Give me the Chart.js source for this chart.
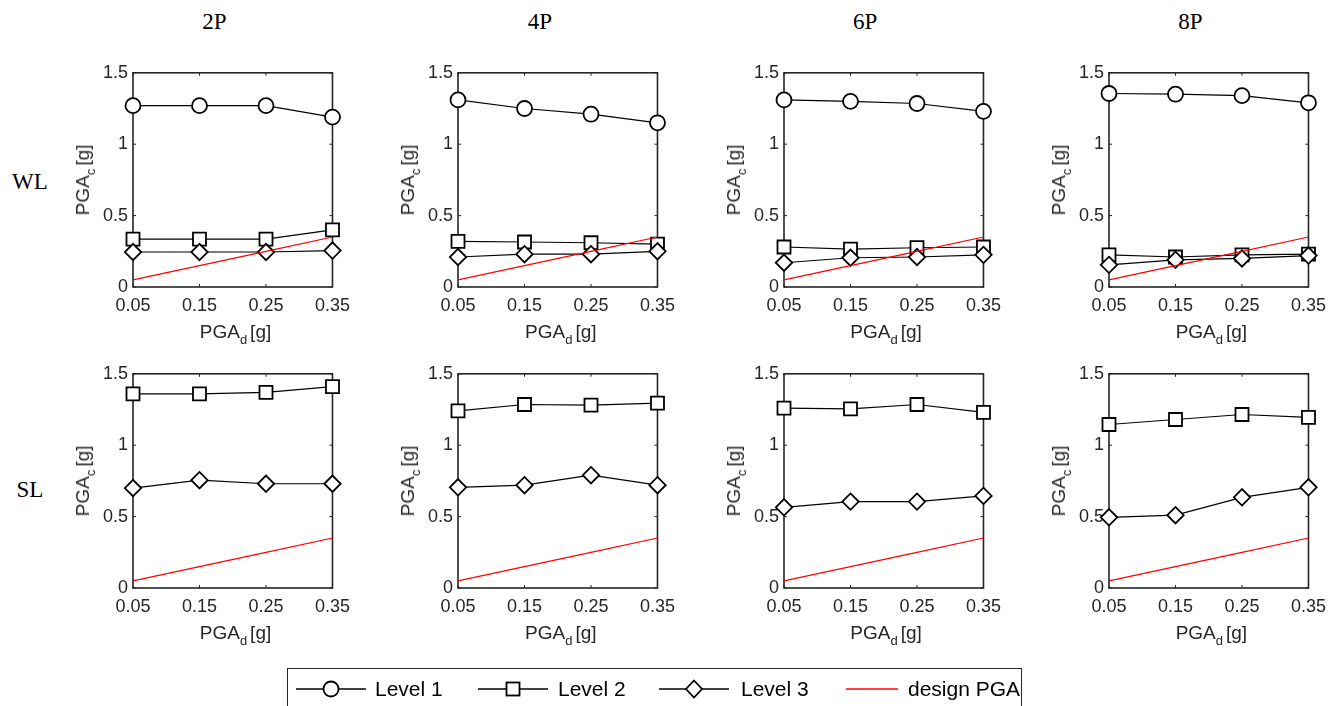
<!DOCTYPE html>
<html>
<head>
<meta charset="utf-8">
<script src="https://cdn.jsdelivr.net/npm/chart.js@4.4.1/dist/chart.umd.min.js"></script>
<style>
    body { margin: 0; background: #fff; }
    #page { position: relative; width: 1343px; height: 706px; overflow: hidden; background: #fff; }
    .panel { position: absolute; }
    .col-title, .row-title { position: absolute; font-family: 'Liberation Serif', 'Times New Roman', serif; font-size: 23px; color: #000; transform: translate(-50%, -50%); white-space: nowrap; }
    .xlabel, .ylabel { position: absolute; font-family: 'Liberation Sans', Arial, sans-serif; font-size: 19px; color: #262626; white-space: nowrap; }
    .xlabel { transform: translate(-50%, -50%); }
    .ylabel { transform: translate(-50%, -50%) rotate(-90deg); }
    sub { font-size: 13px; vertical-align: -6px; margin-right: 3px; }
    #legend { position: absolute; left: 287px; top: 668px; width: 735px; height: 50px; border: 1px solid #262626; box-sizing: border-box; }
    .leg-icon { position: absolute; top: 10px; }
    .leg-text { position: absolute; top: 8px; font-family: 'Liberation Sans', Arial, sans-serif; font-size: 21px; color: #000; white-space: nowrap; }
</style>
</head>
<body>
<div id="page"></div>
<script>
/* ========================================
   PGA capacity vs design PGA - 2 x 4 panels
   ======================================== */

const xTicks = [0.05, 0.15, 0.25, 0.35];
const yTicks = [0, 0.5, 1, 1.5];
const columns = ['2P', '4P', '6P', '8P'];
const rows = ['WL', 'SL'];
const designPGA = [0.05, 0.15, 0.25, 0.35];

// WL row, one array per column (2P, 4P, 6P, 8P)
const wlLevel1 = [
    [1.27, 1.27, 1.27, 1.19],
    [1.31, 1.25, 1.21, 1.15],
    [1.31, 1.30, 1.285, 1.23],
    [1.355, 1.35, 1.34, 1.29]
];
const wlLevel2 = [
    [0.335, 0.335, 0.335, 0.40],
    [0.32, 0.315, 0.31, 0.30],
    [0.28, 0.265, 0.275, 0.28],
    [0.225, 0.21, 0.225, 0.23]
];
const wlLevel3 = [
    [0.245, 0.245, 0.245, 0.255],
    [0.21, 0.23, 0.23, 0.25],
    [0.17, 0.205, 0.21, 0.225],
    [0.155, 0.19, 0.20, 0.22]
];

// SL row (Level 1 is off the scale)
const slLevel2 = [
    [1.36, 1.36, 1.37, 1.41],
    [1.24, 1.285, 1.28, 1.295],
    [1.26, 1.255, 1.285, 1.23],
    [1.145, 1.18, 1.215, 1.195]
];
const slLevel3 = [
    [0.70, 0.755, 0.73, 0.73],
    [0.705, 0.72, 0.79, 0.72],
    [0.565, 0.605, 0.605, 0.645],
    [0.495, 0.51, 0.635, 0.705]
];

const AXIS_COLOR = '#262626';
const PLOT_W = 205, PLOT_H = 215;
const PAD_L = 70, PAD_T = 15, PAD_R = 20, PAD_B = 35;
const colLeft = c => 133 + c * 325.3;
const rowTop = r => 72 + r * 301;

const page = document.getElementById('page');

function addDiv(cls, html, x, y) {
    const d = document.createElement('div');
    d.className = cls;
    d.innerHTML = html;
    d.style.left = x + 'px';
    d.style.top = y + 'px';
    page.appendChild(d);
    return d;
}

// box with inward ticks, drawn under the markers
const boxPlugin = {
    id: 'matlabBox',
    beforeDatasetsDraw(chart) {
        const { ctx, chartArea: a, scales } = chart;
        const t = 3;
        ctx.save();
        ctx.strokeStyle = AXIS_COLOR;
        ctx.lineWidth = 1.6;
        ctx.strokeRect(a.left, a.top, a.right - a.left, a.bottom - a.top);
        ctx.lineWidth = 1;
        ctx.beginPath();
        xTicks.forEach(v => {
            const px = scales.x.getPixelForValue(v);
            ctx.moveTo(px, a.bottom); ctx.lineTo(px, a.bottom - t);
            ctx.moveTo(px, a.top); ctx.lineTo(px, a.top + t);
        });
        yTicks.forEach(v => {
            const py = scales.y.getPixelForValue(v);
            ctx.moveTo(a.left, py); ctx.lineTo(a.left + t, py);
            ctx.moveTo(a.right, py); ctx.lineTo(a.right - t, py);
        });
        ctx.stroke();
        ctx.restore();
    }
};

function toPoints(values) {
    return values.map((v, i) => ({ x: designPGA[i], y: v }));
}

function levelSet(label, values, style, radius, order) {
    return {
        label: label,
        data: toPoints(values),
        borderColor: '#000',
        borderWidth: 1.2,
        pointStyle: style,
        pointRadius: radius,
        pointHoverRadius: radius,
        pointBackgroundColor: '#fff',
        pointBorderColor: '#000',
        pointBorderWidth: 1.8,
        clip: false,
        order: order
    };
}

function designSet() {
    return {
        label: 'design PGA',
        data: toPoints(designPGA),
        borderColor: '#ff0000',
        borderWidth: 1.2,
        pointRadius: 0,
        clip: false,
        order: 0
    };
}

function makePanel(r, c) {
    const left = colLeft(c), top = rowTop(r);
    const canvas = document.createElement('canvas');
    canvas.className = 'panel';
    canvas.width = PLOT_W + PAD_L + PAD_R;
    canvas.height = PLOT_H + PAD_T + PAD_B;
    canvas.style.left = (left - PAD_L) + 'px';
    canvas.style.top = (top - PAD_T) + 'px';
    page.appendChild(canvas);

    const datasets = [designSet()];
    if (r === 0) {
        datasets.push(levelSet('Level 1', wlLevel1[c], 'circle', 7.5, 3));
        datasets.push(levelSet('Level 2', wlLevel2[c], 'rect', 9.2, 2));
        datasets.push(levelSet('Level 3', wlLevel3[c], 'rectRot', 8.2, 1));
    } else {
        datasets.push(levelSet('Level 2', slLevel2[c], 'rect', 9.2, 2));
        datasets.push(levelSet('Level 3', slLevel3[c], 'rectRot', 8.2, 1));
    }

    new Chart(canvas, {
        type: 'line',
        data: { datasets: datasets },
        plugins: [boxPlugin],
        options: {
            responsive: false,
            animation: false,
            events: [],
            layout: { padding: { top: PAD_T, right: PAD_R, left: 0, bottom: 0 } },
            plugins: { legend: { display: false }, tooltip: { enabled: false } },
            scales: {
                x: {
                    type: 'linear',
                    min: 0.05,
                    max: 0.35,
                    afterBuildTicks: s => { s.ticks = xTicks.map(v => ({ value: v })); },
                    afterFit: s => { s.height = PAD_B; },
                    grid: { display: false, drawTicks: false },
                    border: { display: false },
                    ticks: {
                        padding: 8,
                        color: AXIS_COLOR,
                        maxRotation: 0,
                        autoSkip: false,
                        font: { family: "'Liberation Sans', Arial", size: 18 },
                        callback: v => v.toFixed(2)
                    }
                },
                y: {
                    type: 'linear',
                    min: 0,
                    max: 1.5,
                    afterBuildTicks: s => { s.ticks = yTicks.map(v => ({ value: v })); },
                    afterFit: s => { s.width = PAD_L; },
                    grid: { display: false, drawTicks: false },
                    border: { display: false },
                    ticks: {
                        padding: 5,
                        color: AXIS_COLOR,
                        font: { family: "'Liberation Sans', Arial", size: 18 },
                        callback: v => String(v)
                    }
                }
            }
        }
    });

    addDiv('xlabel', 'PGA<sub>d</sub>[g]', left + PLOT_W / 2, top + PLOT_H + 47);
    addDiv('ylabel', 'PGA<sub>c</sub>[g]', left - 48, top + PLOT_H / 2);
}

rows.forEach((name, r) => {
    addDiv('row-title', name, 30, r === 0 ? 182 : 490);
    columns.forEach((col, c) => makePanel(r, c));
});
columns.forEach((col, c) => addDiv('col-title', col, colLeft(c) + PLOT_W / 2 - 21, 22));

// legend
const legend = document.createElement('div');
legend.id = 'legend';
page.appendChild(legend);

const legendItems = [
    { text: 'Level 1', marker: 'circle', color: '#000', lineX: 8, textX: 87 },
    { text: 'Level 2', marker: 'square', color: '#000', lineX: 190, textX: 270 },
    { text: 'Level 3', marker: 'diamond', color: '#000', lineX: 371, textX: 453 },
    { text: 'design PGA', marker: null, color: '#ff0000', lineX: 558, textX: 620 }
];

legendItems.forEach(item => {
    const w = 70;
    let shape = '';
    if (item.marker === 'circle') shape = '<circle cx="35" cy="10" r="7.5" fill="#fff" stroke="#000" stroke-width="1.8"/>';
    if (item.marker === 'square') shape = '<rect x="28.5" y="3.5" width="13" height="13" fill="#fff" stroke="#000" stroke-width="1.8"/>';
    if (item.marker === 'diamond') shape = '<polygon points="35,1.5 43,10 35,18.5 27,10" fill="#fff" stroke="#000" stroke-width="1.8"/>';
    const svgW = item.marker ? w : 52;
    const icon = document.createElement('div');
    icon.className = 'leg-icon';
    icon.style.left = item.lineX + 'px';
    icon.innerHTML = '<svg width="' + svgW + '" height="20"><line x1="0" y1="10" x2="' + svgW + '" y2="10" stroke="' + item.color + '" stroke-width="1.3"/>' + shape + '</svg>';
    legend.appendChild(icon);
    const t = document.createElement('div');
    t.className = 'leg-text';
    t.style.left = item.textX + 'px';
    t.textContent = item.text;
    legend.appendChild(t);
});
</script>
</body>
</html>
